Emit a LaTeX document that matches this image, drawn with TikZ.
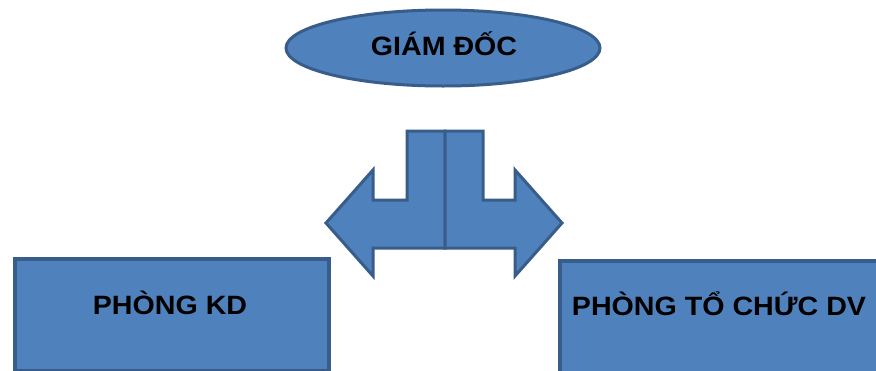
\documentclass[tikz,border=0pt]{standalone}
\usepackage{fontspec}
\setmainfont{Liberation Sans}
\newfontfamily\orgfont[FakeStretch=1.08]{Liberation Sans}
\usetikzlibrary{positioning,shapes.geometric}
\definecolor{orgfill}{HTML}{4F81BD}
\definecolor{orgline}{HTML}{385D8A}

\begin{document}
\begin{tikzpicture}[x=1pt,y=-1pt, every node/.style={font=\orgfont\bfseries\fontsize{26.5}{30}\selectfont}]
        \clip (0,0) rectangle (876,370);
        \fill[white] (0,0) rectangle (876,370);
        % top of the chart
        \node[ellipse,draw=orgline,fill=orgfill,line width=3pt,minimum width=314pt,minimum height=76pt] (gd) at (443,48) {};
        \node (gdtext) at (444,44) {GIÁM ĐỐC};
        % the two departments
        \node[rectangle,draw=orgline,fill=orgfill,line width=3.5pt,minimum width=314pt,minimum height=112pt,anchor=north west] (kd) at (13,257) {};
        \node (kdtext) at (170,303) {PHÒNG KD};
        \node[rectangle,draw=orgline,fill=orgfill,line width=3.5pt,minimum width=322pt,minimum height=112pt,anchor=north west] (tc) at (558,259) {};
        \node (tctext) at (719,304) {PHÒNG TỔ CHỨC DV};
        % split arrow, one half per side
        \draw[orgline,fill=orgfill,line width=3pt] (445,131) -- (407,131) -- (407,200) -- (373,200) -- (373,170)
          -- (326,223) -- (373,276) -- (373,248) -- (445,248) -- cycle;
        \draw[orgline,fill=orgfill,line width=3pt] (445,131) -- (483,131) -- (483,200) -- (515,200) -- (515,170)
          -- (562,223) -- (515,276) -- (515,248) -- (445,248) -- cycle;
      \end{tikzpicture}
\end{document}
